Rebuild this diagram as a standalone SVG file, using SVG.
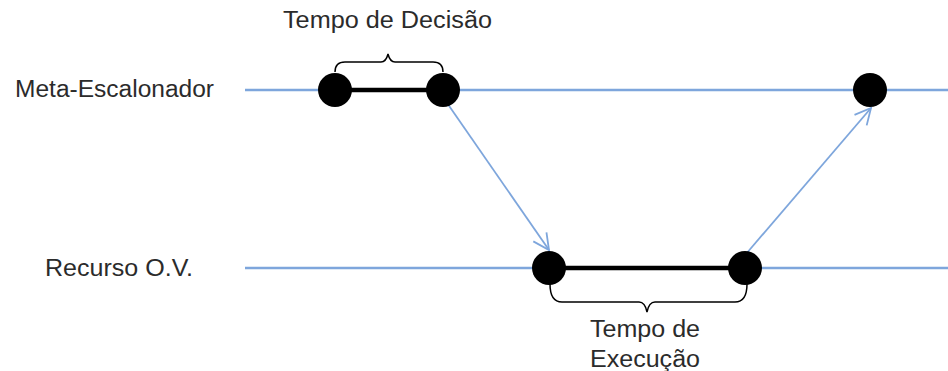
<svg xmlns="http://www.w3.org/2000/svg" width="948" height="371" viewBox="0 0 948 371">
<defs>
<style>
.lbl{font-family:"Liberation Sans",Arial,sans-serif;font-size:23px;fill:#2b2b2b}
.tl{stroke:#7ea6dc;stroke-width:2.5;fill:none}
.ar{stroke:#7ea6dc;stroke-width:1.8;fill:none}
.dot{fill:#000}
.bar{stroke:#000;stroke-width:4.5}
.brace{stroke:#000;stroke-width:1.5;fill:none}
</style>
<marker id="arr" viewBox="0 0 20 20" refX="18" refY="10" markerWidth="20" markerHeight="20" markerUnits="userSpaceOnUse" orient="auto">
<path d="M2,2 L18,10 L2,18" fill="none" stroke="#7ea6dc" stroke-width="1.8"/>
</marker>
</defs>
<rect width="948" height="371" fill="#fff"/>
<g id="timelines">
<line class="tl" x1="245" y1="90" x2="948" y2="90"/>
<line class="tl" x1="245" y1="268" x2="948" y2="268"/>
</g>
<g id="labels">
<text class="lbl" x="15" y="97" textLength="199" lengthAdjust="spacingAndGlyphs">Meta-Escalonador</text>
<text class="lbl" x="45" y="276" textLength="148" lengthAdjust="spacingAndGlyphs">Recurso O.V.</text>
</g>
<g id="connectors">
<line class="ar" x1="445" y1="100" x2="549" y2="250" marker-end="url(#arr)"/>
<line class="ar" x1="746" y1="254" x2="871" y2="108" marker-end="url(#arr)"/>
</g>
<g id="decision">
<line class="bar" x1="335" y1="90" x2="443" y2="90"/>
<circle class="dot" cx="335" cy="90" r="17"/>
<circle class="dot" cx="443" cy="90" r="17"/>
<path class="brace" d="M335,72 Q335,62 345,62 L381,62 Q386,62 388,54 Q390,62 395,62 L433,62 Q443,62 443,72"/>
<text class="lbl" x="283" y="28" textLength="209" lengthAdjust="spacingAndGlyphs">Tempo de Decisão</text>
</g>
<g id="execution">
<line class="bar" x1="549" y1="268" x2="745" y2="268"/>
<circle class="dot" cx="549" cy="268" r="17"/>
<circle class="dot" cx="745" cy="268" r="17"/>
<path class="brace" d="M550,284 Q550,302 562,302 L639,302 Q645,302 647,312 Q649,302 655,302 L735,302 Q747,302 747,284"/>
<text class="lbl" x="590" y="337" textLength="110" lengthAdjust="spacingAndGlyphs">Tempo de</text>
<text class="lbl" x="590" y="367" textLength="110" lengthAdjust="spacingAndGlyphs">Execução</text>
</g>
<g id="end">
<circle class="dot" cx="870" cy="90" r="17"/>
</g>
</svg>
